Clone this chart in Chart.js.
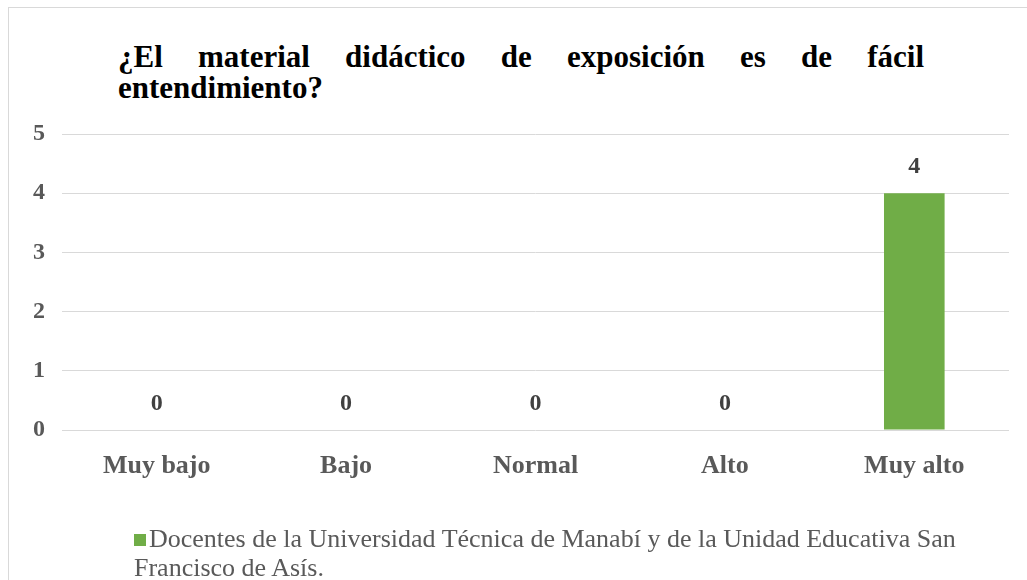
<!DOCTYPE html>
<html lang="es">
<head>
<meta charset="utf-8">
<script src="https://cdn.jsdelivr.net/npm/chart.js@4/dist/chart.umd.min.js"></script>
<style>
  html, body { margin: 0; padding: 0; background: #fff; }
  #wrap { position: relative; width: 1027px; height: 580px; overflow: hidden; }
  #frame { position: absolute; left: 8px; top: 7px; width: 1040px; height: 600px;
    border: 1px solid #d9d9d9; box-sizing: border-box; }
  #chartTitle { position: absolute; left: 118px; top: 41px; width: 806px;
    font: bold 31px "Liberation Serif", "Times New Roman", serif; line-height: 31px;
    color: #000; text-align: justify; text-align-last: left; }
  #chartLegend { position: absolute; left: 134px; top: 524px; width: 870px;
    font: 26px "Liberation Serif", "Times New Roman", serif; line-height: 29px; color: #595959; }
  #chartLegend .box { display: inline-block; width: 12px; height: 12px; margin-right: 3px;
    vertical-align: 1px; }
  canvas { position: absolute; left: 0; top: 0; }
</style>
</head>
<body>
<div id="wrap">
  <div id="frame"></div>
  <div id="chartTitle"></div>
  <canvas id="surveyChart" width="1027" height="580"></canvas>
  <div id="chartLegend"></div>
</div>
<script>
const titleText = "¿El material didáctico de exposición es de fácil entendimiento?";
const categories = ["Muy bajo", "Bajo", "Normal", "Alto", "Muy alto"];
const seriesName = "Docentes de la Universidad Técnica de Manabí y de la Unidad Educativa San Francisco de Asís.";
const seriesValues = [0, 0, 0, 0, 4];
const yTicks = [0, 1, 2, 3, 4, 5];

const serif = "'Liberation Serif', 'Times New Roman', serif";
const barColor = "#70AD47";

// draws the value above each bar (no datalabels plugin available offline)
const barValueLabels = {
  id: "barValueLabels",
  afterDatasetsDraw(chart) {
    const ctx = chart.ctx;
    chart.data.datasets.forEach((ds, i) => {
      const meta = chart.getDatasetMeta(i);
      meta.data.forEach((bar, j) => {
        ctx.save();
        ctx.font = "bold 24px " + serif;
        ctx.fillStyle = "#404040";
        ctx.textAlign = "center";
        ctx.textBaseline = "bottom";
        ctx.fillText(String(ds.data[j]), bar.x, bar.y - 14);
        ctx.restore();
      });
    });
  }
};

function buildLegend(chart) {
  const el = document.getElementById("chartLegend");
  el.innerHTML = "";
  chart.data.datasets.forEach(ds => {
    const box = document.createElement("span");
    box.className = "box";
    box.style.background = ds.backgroundColor;
    el.appendChild(box);
    el.appendChild(document.createTextNode(ds.label));
  });
}

document.getElementById("chartTitle").textContent = titleText;

const surveyChart = new Chart(document.getElementById("surveyChart").getContext("2d"), {
  type: "bar",
  data: {
    labels: categories,
    datasets: [{
      label: seriesName,
      data: seriesValues,
      backgroundColor: barColor,
      barPercentage: 0.32,
      categoryPercentage: 1.0
    }]
  },
  options: {
    responsive: false,
    animation: false,
    devicePixelRatio: 1,
    layout: { padding: { left: 0, right: 18, top: 134, bottom: 0 } },
    plugins: {
      legend: { display: false },
      title: { display: false },
      tooltip: { enabled: false }
    },
    scales: {
      x: {
        grid: { display: false },
        border: { display: false },
        ticks: {
          color: "#595959",
          font: { family: serif, size: 26, weight: "bold" },
          padding: 13,
          maxRotation: 0
        },
        afterFit: s => { s.height = 150; }
      },
      y: {
        min: 0,
        max: 5,
        afterBuildTicks: s => { s.ticks = yTicks.map(v => ({ value: v })); },
        grid: { color: "#d9d9d9", lineWidth: 1, drawTicks: false },
        border: { display: false },
        ticks: {
          color: "#595959",
          font: { family: serif, size: 24, weight: "bold" },
          padding: 17
        },
        afterFit: s => { s.width = 62; }
      }
    }
  },
  plugins: [barValueLabels]
});

buildLegend(surveyChart);
</script>
</body>
</html>
